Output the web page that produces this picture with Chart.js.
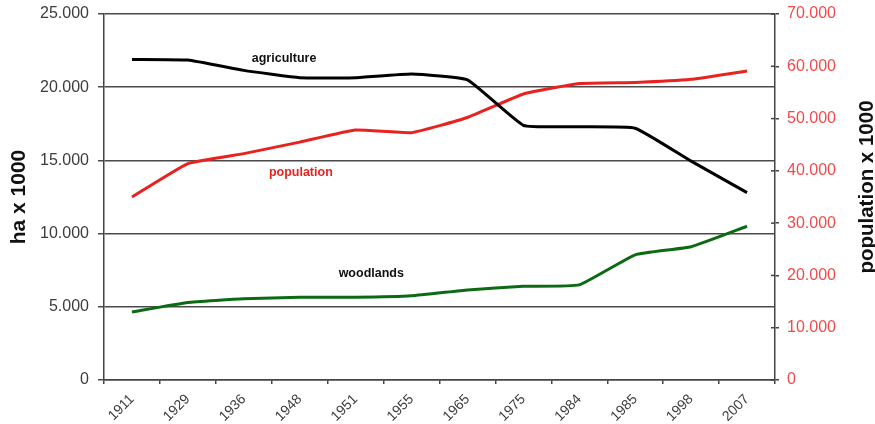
<!DOCTYPE html>
<html>
<head>
<meta charset="utf-8">
<script src="https://cdn.jsdelivr.net/npm/chart.js@4/dist/chart.umd.min.js"></script>
<style>
  html, body { margin: 0; padding: 0; background: #fff; }
  canvas { display: block; }
</style>
</head>
<body>
<canvas id="chart" width="875" height="424"></canvas>
<script>
// Census years on the category axis
const years = ['1911', '1929', '1936', '1948', '1951', '1955', '1965', '1975', '1984', '1985', '1998', '2007'];

// Land use in hectares x 1000 (left axis)
const agriculture = [21900, 21850, 21150, 20650, 20650, 20900, 20500, 17400, 17300, 17200, 14950, 12800];
const woodlands   = [4650, 5300, 5550, 5650, 5650, 5750, 6150, 6400, 6500, 8550, 9100, 10500];

// Inhabitants x 1000 (right axis)
const population  = [35000, 41400, 43300, 45500, 47800, 47300, 50200, 54700, 56700, 56900, 57500, 59100];

// Axis ranges and tick steps
const leftTicks  = { min: 0, max: 25000, step: 5000 };
const rightTicks = { min: 0, max: 70000, step: 10000 };

const fmt = v => String(v).replace(/\B(?=(\d{3})+(?!\d))/g, '.');
const FONT = '"Liberation Sans", Arial, sans-serif';

// Fixed axis box sizes so the plot area keeps its place
function fixVertical(width) {
  return s => { s.width = width; s.paddingTop = 0; s.paddingBottom = 0; };
}

// Series names written next to their lines, placed in data coordinates
const inlineLabels = {
  id: 'inlineLabels',
  afterDatasetsDraw(chart, args, opts) {
    const { ctx, scales } = chart;
    ctx.save();
    ctx.textAlign = 'center';
    ctx.textBaseline = 'middle';
    ctx.font = 'bold 12.5px ' + FONT;
    for (const l of opts.items) {
      ctx.fillStyle = l.color;
      ctx.fillText(l.text, scales.x.getPixelForValue(l.at), scales.y.getPixelForValue(l.value));
    }
    ctx.restore();
  }
};

// Right axis: tick marks crossing the axis line and a bottom-to-top title
const rightAxisExtras = {
  id: 'rightAxisExtras',
  afterDraw(chart) {
    const { ctx, chartArea } = chart;
    const s = chart.scales.y1;
    ctx.save();
    ctx.strokeStyle = '#444';
    ctx.lineWidth = 1.5;
    for (const t of s.ticks) {
      const y = s.getPixelForValue(t.value);
      ctx.beginPath();
      ctx.moveTo(chartArea.right - 4, y);
      ctx.lineTo(chartArea.right, y);
      ctx.stroke();
    }
    ctx.translate(867, 187);
    ctx.rotate(-Math.PI / 2);
    ctx.font = 'bold 20.5px ' + FONT;
    ctx.fillStyle = '#111';
    ctx.textAlign = 'center';
    ctx.textBaseline = 'middle';
    ctx.fillText('population x 1000', 0, 0);
    ctx.restore();
  }
};

new Chart(document.getElementById('chart'), {
  type: 'line',
  data: {
    labels: years,
    datasets: [
      { label: 'agriculture', data: agriculture, yAxisID: 'y', borderColor: '#000000', borderWidth: 3, tension: 0.12 },
      { label: 'population', data: population, yAxisID: 'y1', borderColor: '#e8231f', borderWidth: 3, tension: 0.12 },
      { label: 'woodlands', data: woodlands, yAxisID: 'y', borderColor: '#0c6b12', borderWidth: 3, tension: 0.12 }
    ]
  },
  options: {
    responsive: false,
    animation: false,
    layout: { padding: { top: 14, left: 0, right: 0, bottom: 0 } },
    elements: { point: { radius: 0, hoverRadius: 0 } },
    plugins: {
      legend: { display: false },
      tooltip: { enabled: false },
      inlineLabels: {
        items: [
          { text: 'agriculture', at: 2.72, value: 21950, color: '#111111' },
          { text: 'population',  at: 3.02, value: 14200, color: '#e8231f' },
          { text: 'woodlands',   at: 4.28, value: 7300,  color: '#111111' }
        ]
      }
    },
    scales: {
      x: {
        type: 'category',
        offset: true,
        afterFit(s) { s.height = 44; s.paddingLeft = 0; s.paddingRight = 0; },
        grid: { offset: true, drawOnChartArea: false, drawTicks: true, tickLength: 4, color: '#444', lineWidth: 1.5 },
        border: { display: true, color: '#444', width: 1.5 },
        ticks: {
          autoSkip: false,
          minRotation: 45,
          maxRotation: 45,
          padding: 7,
          color: '#3c3c3c',
          font: { family: FONT, size: 14 }
        }
      },
      y: {
        position: 'left',
        min: leftTicks.min,
        max: leftTicks.max,
        afterFit: fixVertical(104),
        grid: { drawOnChartArea: true, drawTicks: true, tickLength: 6, color: '#4a4a4a', lineWidth: 1.5 },
        border: { display: true, color: '#444', width: 1.5 },
        ticks: {
          stepSize: leftTicks.step,
          padding: 9,
          color: '#3c3c3c',
          font: { family: FONT, size: 16 },
          callback: v => fmt(v)
        },
        title: {
          display: true,
          text: 'ha x 1000',
          color: '#111',
          padding: { top: 7, bottom: 0 },
          font: { family: FONT, size: 21, weight: 'bold' }
        }
      },
      y1: {
        position: 'right',
        min: rightTicks.min,
        max: rightTicks.max,
        afterFit: fixVertical(100),
        grid: { drawOnChartArea: false, drawTicks: true, tickLength: 4, color: '#444', lineWidth: 1.5 },
        border: { display: true, color: '#444', width: 1.5 },
        ticks: {
          stepSize: rightTicks.step,
          padding: 8,
          color: '#f24a4a',
          font: { family: FONT, size: 16 },
          callback: v => fmt(v)
        }
      }
    }
  },
  plugins: [inlineLabels, rightAxisExtras]
});
</script>
</body>
</html>
